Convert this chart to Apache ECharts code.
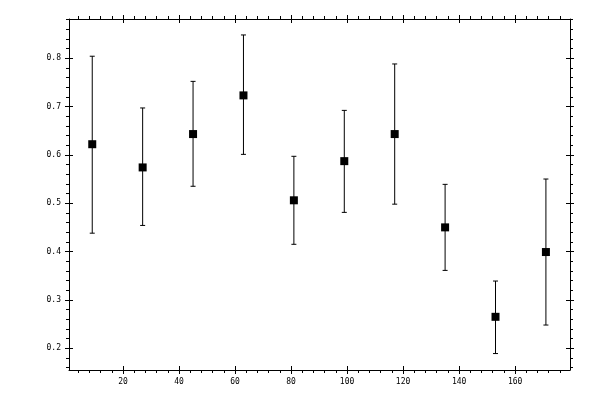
<!DOCTYPE html>
<html>
<head>
<meta charset="utf-8">
<script src="https://cdn.jsdelivr.net/npm/echarts@6/dist/echarts.min.js"></script>
<style>html,body{margin:0;padding:0;background:#fff}#c{width:600px;height:400px}</style>
</head>
<body>
<div id="c"></div>
<script>
const xValues = [9, 27, 45, 63, 81, 99, 117, 135, 153, 171];
const yValues = [0.622, 0.574, 0.643, 0.723, 0.506, 0.587, 0.643, 0.450, 0.265, 0.399];
const yLow    = [0.438, 0.454, 0.535, 0.601, 0.415, 0.481, 0.498, 0.361, 0.189, 0.248];
const yHigh   = [0.804, 0.697, 0.752, 0.848, 0.597, 0.692, 0.788, 0.539, 0.339, 0.550];
const xTicks = [20, 40, 60, 80, 100, 120, 140, 160];
const yTicks = [0.2, 0.3, 0.4, 0.5, 0.6, 0.7, 0.8];

const X_MIN = 0.7, X_MAX = 179.6;
const Y_MIN = 0.155, Y_MAX = 0.881;

const points = xValues.map((x, i) => [x, yValues[i]]);
const bars = xValues.map((x, i) => [x, yLow[i], yHigh[i]]);

const font = {fontFamily: 'DejaVu Sans Mono', fontSize: 8, color: '#000'};
function xAx(position, labels, inside) {
  return {
    type: 'value', position: position, min: X_MIN, max: X_MAX, splitNumber: 9,
    axisLine: {show: !inside, lineStyle: {color: '#000', width: 1}},
    axisTick: {show: true, inside: inside, length: 4, customValues: xTicks, lineStyle: {color: '#000'}},
    minorTick: {show: !inside, splitNumber: 5, length: 3, lineStyle: {color: '#000'}},
    axisLabel: Object.assign({show: labels, margin: 8, customValues: xTicks}, font),
    splitLine: {show: false}
  };
}
function yAx(position, labels, inside) {
  return {
    type: 'value', position: position, min: Y_MIN, max: Y_MAX, splitNumber: 7,
    axisLine: {show: !inside, lineStyle: {color: '#000', width: 1}},
    axisTick: {show: true, inside: inside, length: 4, customValues: yTicks, lineStyle: {color: '#000'}},
    minorTick: {show: !inside, splitNumber: 5, length: 3, lineStyle: {color: '#000'}},
    axisLabel: Object.assign({show: labels, margin: 8, customValues: yTicks,
      formatter: v => v.toFixed(1)}, font),
    splitLine: {show: false}
  };
}

const chart = echarts.init(document.getElementById('c'), null, {renderer: 'canvas'});
chart.setOption({
  backgroundColor: '#fff',
  animation: false,
  grid: {left: 69, right: 30, top: 19, bottom: 30},
  xAxis: [xAx('bottom', true, false), xAx('bottom', false, true), xAx('top', false, false), xAx('top', false, true)],
  yAxis: [yAx('left', true, false), yAx('left', false, true), yAx('right', false, false), yAx('right', false, true)],
  series: [
    {
      type: 'custom',
      xAxisIndex: 0, yAxisIndex: 0,
      data: bars,
      renderItem: function (params, api) {
        const x = api.value(0);
        const lo = api.coord([x, api.value(1)]);
        const hi = api.coord([x, api.value(2)]);
        const hw = 2.5;
        const st = {stroke: '#000', lineWidth: 1};
        return {
          type: 'group',
          children: [
            {type: 'line', shape: {x1: lo[0], y1: lo[1], x2: hi[0], y2: hi[1]}, style: st},
            {type: 'line', shape: {x1: lo[0] - hw, y1: lo[1], x2: lo[0] + hw, y2: lo[1]}, style: st},
            {type: 'line', shape: {x1: hi[0] - hw, y1: hi[1], x2: hi[0] + hw, y2: hi[1]}, style: st}
          ]
        };
      },
      z: 2
    },
    {
      type: 'scatter',
      xAxisIndex: 0, yAxisIndex: 0,
      data: points,
      symbol: 'rect',
      symbolSize: 8,
      itemStyle: {color: '#000', opacity: 1},
      z: 3
    }
  ]
});
</script>
</body>
</html>
